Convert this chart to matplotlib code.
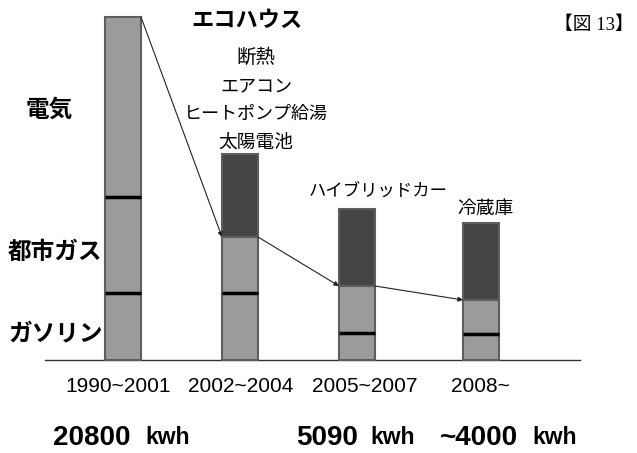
import matplotlib
matplotlib.use("Agg")
import matplotlib.pyplot as plt
import numpy as np

# Household energy use by period (stacked: gasoline / city gas / electricity)
periods = ["1990~2001", "2002~2004", "2005~2007", "2008~"]
gasoline = [67, 67, 27, 26]
city_gas = [96, 56, 47, 34]
electricity = [180, 83, 77, 77]
totals = ["20800", "", "5090", "~4000"]
unit = "kwh"

source_labels = ["電気", "都市ガス", "ガソリン"]
ecohouse_title = "エコハウス"
ecohouse_items = ["断熱", "エアコン", "ヒートポンプ給湯", "太陽電池"]
hybrid_label = "ハイブリッドカー"
fridge_label = "冷蔵庫"
figure_tag = "【図 13】"

# Layout
bar_x = np.array([123, 240, 357, 481])
bar_w = 36
light = "#9b9b9b"
dark = "#444444"
edge = "#5e5e5e"

JP = ["Noto Sans CJK JP", "DejaVu Sans"]
LAT = ["Liberation Sans", "DejaVu Sans"]
SERIF_JP = ["Liberation Serif", "Noto Sans CJK JP"]

fig = plt.figure(figsize=(6.37, 4.53), dpi=100)
ax = fig.add_axes([0, 0, 1, 1])
ax.set_xlim(0, 637)
ax.set_ylim(-93, 360)
ax.axis("off")

g = np.array(gasoline)
c = np.array(city_gas)
e = np.array(electricity)
top_colors = [light, dark, dark, dark]

ax.bar(bar_x, g, width=bar_w, color=light, edgecolor=edge, linewidth=1.5, zorder=2)
ax.bar(bar_x, c, width=bar_w, bottom=g, color=light, edgecolor=edge, linewidth=1.5, zorder=2)
ax.bar(bar_x, e, width=bar_w, bottom=g + c, color=top_colors, edgecolor=edge, linewidth=1.5, zorder=2)

# Black separators between fuel segments
ax.hlines(g, bar_x - bar_w / 2, bar_x + bar_w / 2, color="black", linewidth=2.5, zorder=3)
ax.hlines((g + c)[0], bar_x[0] - bar_w / 2, bar_x[0] + bar_w / 2, color="black", linewidth=2.5, zorder=3)

# Baseline
ax.plot([45, 580], [0, 0], color="#333333", linewidth=1.0, zorder=1)

# Arrows tracing the reduction from one period to the next
starts = [(bar_x[0] + bar_w / 2, (g + c + e)[0])] + [
    (bar_x[i] + bar_w / 2, (g + c)[i]) for i in (1, 2)
]
ends = [(bar_x[i] - bar_w / 2, (g + c)[i]) for i in (1, 2, 3)]
for s, t in zip(starts, ends):
    ax.annotate("", xy=t, xytext=s,
                arrowprops=dict(arrowstyle="-|>", color="#222222", lw=0.8,
                                mutation_scale=7, shrinkA=0, shrinkB=0),
                zorder=4)

# Fuel labels on the left
for lbl, (x, y) in zip(source_labels, [(49, 250), (55, 108), (56, 27)]):
    ax.text(x, y, lbl, family=JP, fontsize=17, fontweight="bold",
            ha="center", va="center")

# Eco-house measures
ax.text(247, 340, ecohouse_title, family=JP, fontsize=16, fontweight="bold",
        ha="center", va="center")
for lbl, y, fs in zip(ecohouse_items, [303, 274, 246, 218], [14, 13, 13, 13.5]):
    ax.text(256, y, lbl, family=JP, fontsize=fs, ha="center", va="center")

ax.text(378, 168, hybrid_label, family=JP, fontsize=12.5, ha="center", va="center")
ax.text(485, 152, fridge_label, family=JP, fontsize=13.5, ha="center", va="center")

ax.text(594, 335, figure_tag, family=SERIF_JP, fontsize=13.5, ha="center", va="center")

# Period labels
for x, p in zip([118, 241, 365, 480], periods):
    ax.text(x, -27, p, family=LAT, fontsize=15, ha="center", va="center")

# Annual totals
for (x0, x1), t in zip([(53, 190), (0, 0), (296, 415), (440, 577)], totals):
    if not t:
        continue
    ax.text(x0, -78, t, family=LAT, fontsize=20, fontweight="bold",
            ha="left", va="center")
    ax.text(x1, -78, unit, family=LAT, fontsize=16.5, fontweight="bold",
            ha="right", va="center")

fig.savefig("out.png", dpi=100, facecolor="white")
